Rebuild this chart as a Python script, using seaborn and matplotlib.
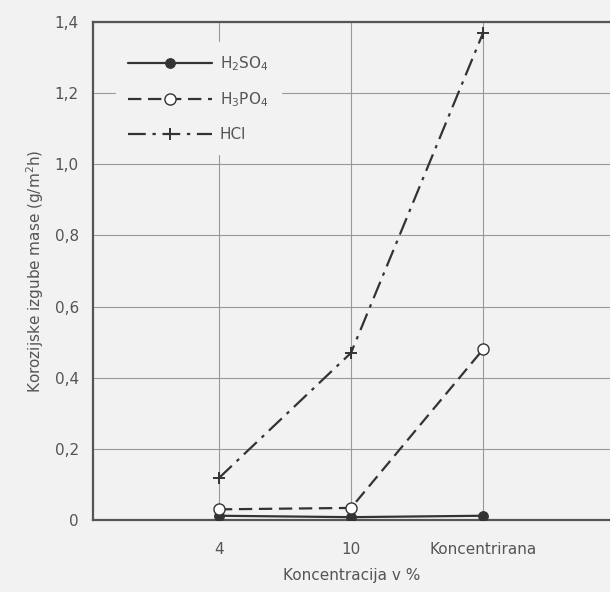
import matplotlib
matplotlib.use("Agg")
import matplotlib.pyplot as plt
import seaborn as sns
import pandas as pd

# data
koncentracija = ["4", "10", "Koncentrirana"]
h2so4 = [0.012, 0.008, 0.012]
h3po4 = [0.03, 0.034, 0.48]
hcl = [0.118, 0.47, 1.37]

y_ticks = [0, 0.2, 0.4, 0.6, 0.8, 1.0, 1.2, 1.4]
y_labels = ["0", "0,2", "0,4", "0,6", "0,8", "1,0", "1,2", "1,4"]

bg = "#f2f2f2"
ink = "#333333"
txt = "#555555"

sns.set_theme(style="white")
plt.rcParams["font.family"] = ["DejaVu Sans"]

fig = plt.figure(figsize=(6.10, 5.92), dpi=100, facecolor=bg)
ax = fig.add_axes([0.152, 0.1216, 0.848, 0.8412])
ax.set_facecolor(bg)

df = pd.DataFrame({"x": koncentracija, "H2SO4": h2so4, "H3PO4": h3po4, "HCl": hcl})

sns.lineplot(data=df, x="x", y="H2SO4", ax=ax, color=ink, lw=1.6, marker="o",
             markersize=7, markerfacecolor=ink, markeredgecolor=ink,
             label="H$_2$SO$_4$", zorder=4)
sns.lineplot(data=df, x="x", y="H3PO4", ax=ax, color=ink, lw=1.6, marker="o",
             markersize=8, markerfacecolor="white", markeredgecolor=ink,
             markeredgewidth=1.0, label="H$_3$PO$_4$", zorder=5)
ax.lines[-1].set_dashes([6, 3])
sns.lineplot(data=df, x="x", y="HCl", ax=ax, color=ink, lw=1.6, marker="+",
             markersize=9, markeredgewidth=1.4, markeredgecolor=ink,
             label="HCl", zorder=4)
ax.lines[-1].set_dashes([8, 3, 1.5, 3])

ax.set_xlim(-0.955, 2.96)
ax.set_ylim(0, 1.4)
ax.set_yticks(y_ticks)
ax.set_yticklabels(y_labels)
ax.grid(True, color="#999999", lw=0.8)
ax.set_axisbelow(True)
ax.tick_params(axis="x", length=0, labelsize=11, labelcolor=txt, pad=16)
ax.tick_params(axis="y", length=0, labelsize=11, labelcolor=txt, pad=10)

for s in ["left", "bottom", "top"]:
    ax.spines[s].set_color(txt)
    ax.spines[s].set_linewidth(1.6)
ax.spines["right"].set_visible(False)

ax.set_xlabel("Koncentracija v %", fontsize=11, color=txt, labelpad=8)
ax.set_ylabel("Korozijske izgube mase (g/m$^2$h)", fontsize=11, color=txt, labelpad=6)

leg = ax.legend(loc="upper left", bbox_to_anchor=(0.03, 0.975), frameon=True,
                facecolor=bg, edgecolor=bg, framealpha=1, fontsize=11,
                handlelength=5.5, handletextpad=0.5, labelspacing=1.15,
                borderpad=0.8)
for t in leg.get_texts():
    t.set_color(txt)
leg.set_zorder(10)

fig.savefig("out.png", dpi=100, facecolor=bg)
